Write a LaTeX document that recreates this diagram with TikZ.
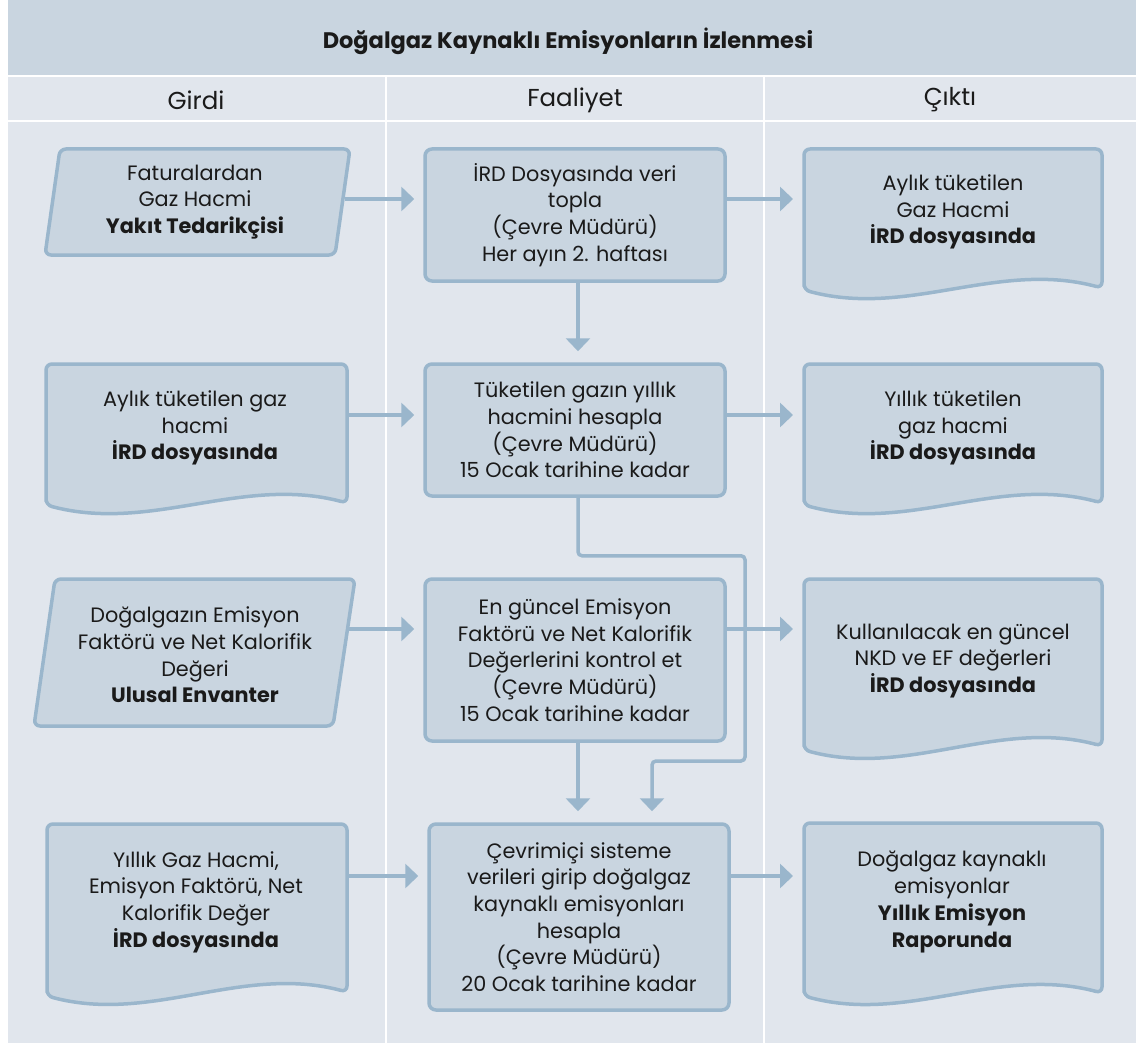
\documentclass[tikz,border=0pt]{standalone}
\usepackage{fontspec}
\setmainfont{Poppins}
\usetikzlibrary{arrows.meta,calc}
\definecolor{panel}{HTML}{E1E6ED}
\definecolor{band}{HTML}{C9D5E0}
\definecolor{nodefill}{HTML}{C9D5E0}
\definecolor{edge}{HTML}{9AB6CC}
\definecolor{ink}{HTML}{1A1A1A}
\newcommand\docshp[5]{%
  \draw[shapebox] (#1,#4) -- (#1,#2) -- (#3,#2) -- (#3,#5)
    .. controls ({#3-0.35*(#3-#1)},{#5-28}) and ({#1+0.35*(#3-#1)},{#4+28}) .. cycle;}
\begin{document}
\begin{tikzpicture}[x=1pt,y=-1pt,
  txt/.style={font=\fontsize{20.8}{26.7}\selectfont, align=center, text=ink, inner sep=0pt},
  act/.style={txt, draw=edge, fill=nodefill, line width=3.5pt, rounded corners=7pt},
  shapebox/.style={draw=edge, fill=nodefill, line width=3.5pt, rounded corners=6pt, line join=round},
  conn/.style={draw=edge, line width=3.5pt, -{Triangle[length=13pt,width=24pt]}},
  link/.style={draw=edge, line width=3.5pt, rounded corners=4pt, -{Triangle[length=13pt,width=24pt]}},
  head/.style={font=\fontsize{24.5}{28}\selectfont, text=ink, inner sep=0pt}]
\useasboundingbox (0,0) rectangle (1136,1046);
\fill[white] (0,0) rectangle (1136,1046);
% panel
\fill[band] (8,0) rectangle (1136,75);
\fill[panel] (8,77) rectangle (385,120);
\fill[panel] (387,77) rectangle (763,120);
\fill[panel] (765,77) rectangle (1136,120);
\fill[panel] (8,122) rectangle (385,1043);
\fill[panel] (387,122) rectangle (763,1043);
\fill[panel] (765,122) rectangle (1136,1043);
\node[text=ink, inner sep=0pt, font=\fontsize{22.5}{26}\selectfont\bfseries] (title) at (568,41) {Doğalgaz Kaynaklı Emisyonların İzlenmesi};
\node[head] (h1) at (196,100) {Girdi};
\node[head] (h2) at (575,100) {Faaliyet};
\node[head] (h3) at (950,100) {Çıktı};
% shapes
\draw[shapebox] (60,149) -- (350,149) -- (335,255) -- (45,255) -- cycle;
\draw[shapebox] (55,579) -- (355,579) -- (333,726) -- (34,726) -- cycle;
\docshp{804}{149}{1102}{290}{288}
\docshp{46}{364}{347}{505}{503}
\docshp{804}{364}{1102}{505}{503}
\docshp{804}{579}{1102}{750}{746}
\docshp{47}{824}{347}{996}{992}
\docshp{804}{823}{1102}{996}{993}
% inputs
\node[txt] (in1) at (195,202) {Faturalardan\\Gaz Hacmi\\\textbf{Yakıt Tedarikçisi}};
\node[txt] (in2) at (195,428) {Aylık tüketilen gaz\\hacmi\\\textbf{İRD dosyasında}};
\node[txt] (in3) at (195,655) {Doğalgazın Emisyon\\Faktörü ve Net Kalorifik\\Değeri\\\textbf{Ulusal Envanter}};
\node[txt] (in4) at (196,902) {Yıllık Gaz Hacmi,\\Emisyon Faktörü, Net\\Kalorifik Değer\\\textbf{İRD dosyasında}};
% activities
\node[act, minimum width=300pt, minimum height=132pt] (a1) at (575,215) {İRD Dosyasında veri\\topla\\(Çevre Müdürü)\\Her ayın 2. haftası};
\node[act, minimum width=300pt, minimum height=132pt] (a2) at (575,430) {Tüketilen gazın yıllık\\hacmini hesapla\\(Çevre Müdürü)\\15 Ocak tarihine kadar};
\node[act, minimum width=300pt, minimum height=162pt] (a3) at (575,660) {En güncel Emisyon\\Faktörü ve Net Kalorifik\\Değerlerini kontrol et\\(Çevre Müdürü)\\15 Ocak tarihine kadar};
\node[act, minimum width=300pt, minimum height=186pt] (a4) at (579,917) {Çevrimiçi sisteme\\verileri girip doğalgaz\\kaynaklı emisyonları\\hesapla\\(Çevre Müdürü)\\20 Ocak tarihine kadar};
% outputs
\node[txt] (o1) at (953,212) {Aylık tüketilen\\Gaz Hacmi\\\textbf{İRD dosyasında}};
\node[txt] (o2) at (953,428) {Yıllık tüketilen\\gaz hacmi\\\textbf{İRD dosyasında}};
\node[txt] (o3) at (953,661) {Kullanılacak en güncel\\NKD ve EF değerleri\\\textbf{İRD dosyasında}};
\node[txt] (o4) at (952,902) {Doğalgaz kaynaklı\\emisyonlar\\\textbf{Yıllık Emisyon}\\\textbf{Raporunda}};
% connector anchors
\coordinate (in1r) at (345,199);
\coordinate (in2r) at (347,415);
\coordinate (in3r) at (349,629);
\coordinate (in4r) at (347,876);
\coordinate (o1l) at (804,199);
\coordinate (o2l) at (804,415);
\coordinate (o3l) at (804,629);
\coordinate (o4l) at (804,876);
% connectors
\draw[conn, shorten >=9pt] (in1r) -- (a1.west |- in1r);
\draw[conn, shorten >=11pt] (a1.east |- in1r) -- (o1l);
\draw[conn, shorten >=9pt] (in2r) -- (a2.west |- in2r);
\draw[conn, shorten >=11pt] (a2.east |- in2r) -- (o2l);
\draw[conn, shorten >=9pt] (in3r) -- (a3.west |- in3r);
\draw[conn, shorten >=11pt] (a3.east |- in3r) -- (o3l);
\draw[conn, shorten >=9pt] (in4r) -- (a4.west |- in4r);
\draw[conn, shorten >=11pt] (a4.east |- in4r) -- (o4l);
\draw[conn, shorten >=11pt] ([xshift=3pt]a1.south) -- ([xshift=3pt]a2.north);
\draw[link] ([xshift=3pt]a2.south) -- ++(0,58) -| (745,761) -| ([xshift=73pt]a4.north) [shorten >=11pt];
\draw[conn, shorten >=11pt] ([xshift=3pt]a3.south) -- (a4.north -| 578,0);
\end{tikzpicture}
\end{document}
